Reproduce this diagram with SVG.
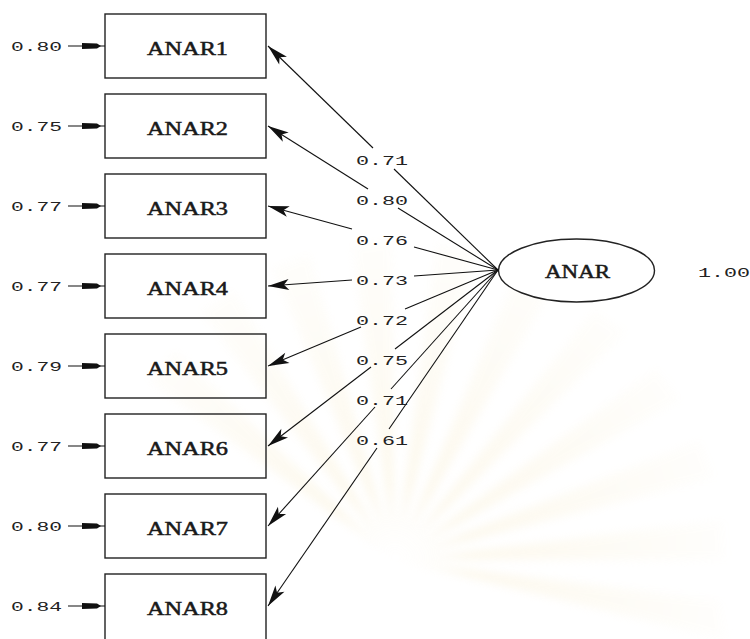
<svg xmlns="http://www.w3.org/2000/svg" width="750" height="639" viewBox="0 0 750 639">
  <style>
    .box { fill: none; stroke: #222222; stroke-width: 1.4; }
    .lat { fill: #ffffff; stroke: #222222; stroke-width: 1.4; }
    .name { font-family: "Liberation Serif", "DejaVu Serif", serif; font-size: 19px; fill: #1a1a1a; stroke: #1a1a1a; stroke-width: 0.5; }
    .num { font-family: "Liberation Mono", "DejaVu Sans Mono", monospace; font-size: 13.5px; fill: #222222; }
    .link { fill: none; stroke: #111111; stroke-width: 1.1; }
    .ray { fill: #f6e6b8; }
  </style>
  <defs>
    <marker id="ah" markerUnits="userSpaceOnUse" markerWidth="24" markerHeight="14" viewBox="-23 -7 24 14" refX="0" refY="0" orient="auto" overflow="visible">
      <path d="M0,0 L-21,-5.5 L-16,0 L-21,5.5 z" fill="#111111"/>
    </marker>
    <marker id="eh" markerUnits="userSpaceOnUse" markerWidth="26" markerHeight="8" viewBox="-25 -4 26 8" refX="0" refY="0" orient="auto" overflow="visible">
      <path d="M-23,-3 L-8,-2.6 L-4,0 L-8,2.6 L-23,3 z" fill="#111111"/>
    </marker>
    <radialGradient id="fade" cx="395" cy="560" r="340" gradientUnits="userSpaceOnUse">
      <stop offset="0" stop-color="#ffffff" stop-opacity="1"/>
      <stop offset="0.22" stop-color="#ffffff" stop-opacity="0.2"/>
      <stop offset="1" stop-color="#ffffff" stop-opacity="0.9"/>
    </radialGradient>
    <filter id="soft" x="-10%" y="-10%" width="120%" height="120%">
      <feGaussianBlur stdDeviation="4"/>
    </filter>
  </defs>

  <rect width="750" height="639" fill="#ffffff"/>

  <!-- faint emblem in the background -->
  <g id="watermark" opacity="0.3" filter="url(#soft)">
    <g class="ray">
      <path d="M395,560 L725,560 L722,520 z"/>
      <path d="M395,560 L714,478 L700,440 z"/>
      <path d="M395,560 L680,400 L656,368 z"/>
      <path d="M395,560 L626,332 L594,310 z"/>
      <path d="M395,560 L556,282 L518,268 z"/>
      <path d="M395,560 L476,250 L436,244 z"/>
      <path d="M395,560 L392,240 L352,246 z"/>
      <path d="M395,560 L310,254 L272,268 z"/>
      <path d="M395,560 L234,290 L200,312 z"/>
      <path d="M395,560 L720,600 L725,640 z"/>
      <path d="M395,560 L175,350 L150,382 z"/>
    </g>
    <rect width="750" height="639" fill="url(#fade)"/>
  </g>

  <!-- observed variables -->
  <g id="ANAR1"><rect class="box" x="105" y="14" width="161" height="64"/><text class="name" x="147" y="54.5" textLength="81" lengthAdjust="spacingAndGlyphs">ANAR1</text></g>
  <g id="ANAR2"><rect class="box" x="105" y="94" width="161" height="64"/><text class="name" x="147" y="134.5" textLength="81" lengthAdjust="spacingAndGlyphs">ANAR2</text></g>
  <g id="ANAR3"><rect class="box" x="105" y="174" width="161" height="64"/><text class="name" x="147" y="214.5" textLength="81" lengthAdjust="spacingAndGlyphs">ANAR3</text></g>
  <g id="ANAR4"><rect class="box" x="105" y="254" width="161" height="64"/><text class="name" x="147" y="294.5" textLength="81" lengthAdjust="spacingAndGlyphs">ANAR4</text></g>
  <g id="ANAR5"><rect class="box" x="105" y="334" width="161" height="64"/><text class="name" x="147" y="374.5" textLength="81" lengthAdjust="spacingAndGlyphs">ANAR5</text></g>
  <g id="ANAR6"><rect class="box" x="105" y="414" width="161" height="64"/><text class="name" x="147" y="454.5" textLength="81" lengthAdjust="spacingAndGlyphs">ANAR6</text></g>
  <g id="ANAR7"><rect class="box" x="105" y="494" width="161" height="64"/><text class="name" x="147" y="534.5" textLength="81" lengthAdjust="spacingAndGlyphs">ANAR7</text></g>
  <g id="ANAR8"><rect class="box" x="105" y="574" width="161" height="70"/><text class="name" x="147" y="614.5" textLength="81" lengthAdjust="spacingAndGlyphs">ANAR8</text></g>

  <!-- latent variable -->
  <g id="ANAR">
    <ellipse class="lat" cx="576.5" cy="270.5" rx="78" ry="31.5"/>
    <text class="name" x="545" y="278" textLength="65" lengthAdjust="spacingAndGlyphs">ANAR</text>
    <text class="num" x="698" y="276.5" textLength="52" lengthAdjust="spacingAndGlyphs">1.00</text>
  </g>

  <!-- error variances -->
  <g id="errors">
    <line class="link" x1="68" y1="46" x2="105" y2="46" marker-end="url(#eh)"/>
    <line class="link" x1="68" y1="126" x2="105" y2="126" marker-end="url(#eh)"/>
    <line class="link" x1="68" y1="206" x2="105" y2="206" marker-end="url(#eh)"/>
    <line class="link" x1="68" y1="286" x2="105" y2="286" marker-end="url(#eh)"/>
    <line class="link" x1="68" y1="366" x2="105" y2="366" marker-end="url(#eh)"/>
    <line class="link" x1="68" y1="446" x2="105" y2="446" marker-end="url(#eh)"/>
    <line class="link" x1="68" y1="526" x2="105" y2="526" marker-end="url(#eh)"/>
    <line class="link" x1="68" y1="606" x2="105" y2="606" marker-end="url(#eh)"/>
    <text class="num" x="11" y="51" textLength="51" lengthAdjust="spacingAndGlyphs">0.80</text>
    <text class="num" x="11" y="131" textLength="51" lengthAdjust="spacingAndGlyphs">0.75</text>
    <text class="num" x="11" y="211" textLength="51" lengthAdjust="spacingAndGlyphs">0.77</text>
    <text class="num" x="11" y="291" textLength="51" lengthAdjust="spacingAndGlyphs">0.77</text>
    <text class="num" x="11" y="371" textLength="51" lengthAdjust="spacingAndGlyphs">0.79</text>
    <text class="num" x="11" y="451" textLength="51" lengthAdjust="spacingAndGlyphs">0.77</text>
    <text class="num" x="11" y="531" textLength="51" lengthAdjust="spacingAndGlyphs">0.80</text>
    <text class="num" x="11" y="611" textLength="51" lengthAdjust="spacingAndGlyphs">0.84</text>
  </g>

  <!-- loadings: each path is broken around its label -->
  <g id="connectors">
    <line class="link" x1="498" y1="270" x2="394" y2="169"/>
    <line class="link" x1="373" y1="148" x2="268" y2="46" marker-end="url(#ah)"/>
    <line class="link" x1="498" y1="270" x2="398" y2="208"/>
    <line class="link" x1="368" y1="189" x2="268" y2="126" marker-end="url(#ah)"/>
    <line class="link" x1="498" y1="270" x2="414" y2="247"/>
    <line class="link" x1="352" y1="229" x2="268" y2="206" marker-end="url(#ah)"/>
    <line class="link" x1="498" y1="270" x2="414" y2="276"/>
    <line class="link" x1="352" y1="280" x2="268" y2="286" marker-end="url(#ah)"/>
    <line class="link" x1="498" y1="270" x2="405" y2="309"/>
    <line class="link" x1="361" y1="327" x2="268" y2="366" marker-end="url(#ah)"/>
    <line class="link" x1="498" y1="270" x2="395" y2="349"/>
    <line class="link" x1="371" y1="367" x2="268" y2="446" marker-end="url(#ah)"/>
    <line class="link" x1="498" y1="270" x2="391" y2="389"/>
    <line class="link" x1="375" y1="407" x2="268" y2="526" marker-end="url(#ah)"/>
    <line class="link" x1="498" y1="270" x2="389" y2="429"/>
    <line class="link" x1="377" y1="448" x2="268" y2="606" marker-end="url(#ah)"/>
    <text class="num" x="356" y="164.5" textLength="52" lengthAdjust="spacingAndGlyphs">0.71</text>
    <text class="num" x="356" y="204.5" textLength="52" lengthAdjust="spacingAndGlyphs">0.80</text>
    <text class="num" x="356" y="244.5" textLength="52" lengthAdjust="spacingAndGlyphs">0.76</text>
    <text class="num" x="356" y="284.5" textLength="52" lengthAdjust="spacingAndGlyphs">0.73</text>
    <text class="num" x="356" y="324.5" textLength="52" lengthAdjust="spacingAndGlyphs">0.72</text>
    <text class="num" x="356" y="365" textLength="52" lengthAdjust="spacingAndGlyphs">0.75</text>
    <text class="num" x="356" y="405" textLength="52" lengthAdjust="spacingAndGlyphs">0.71</text>
    <text class="num" x="356" y="445" textLength="52" lengthAdjust="spacingAndGlyphs">0.61</text>
  </g>
</svg>
